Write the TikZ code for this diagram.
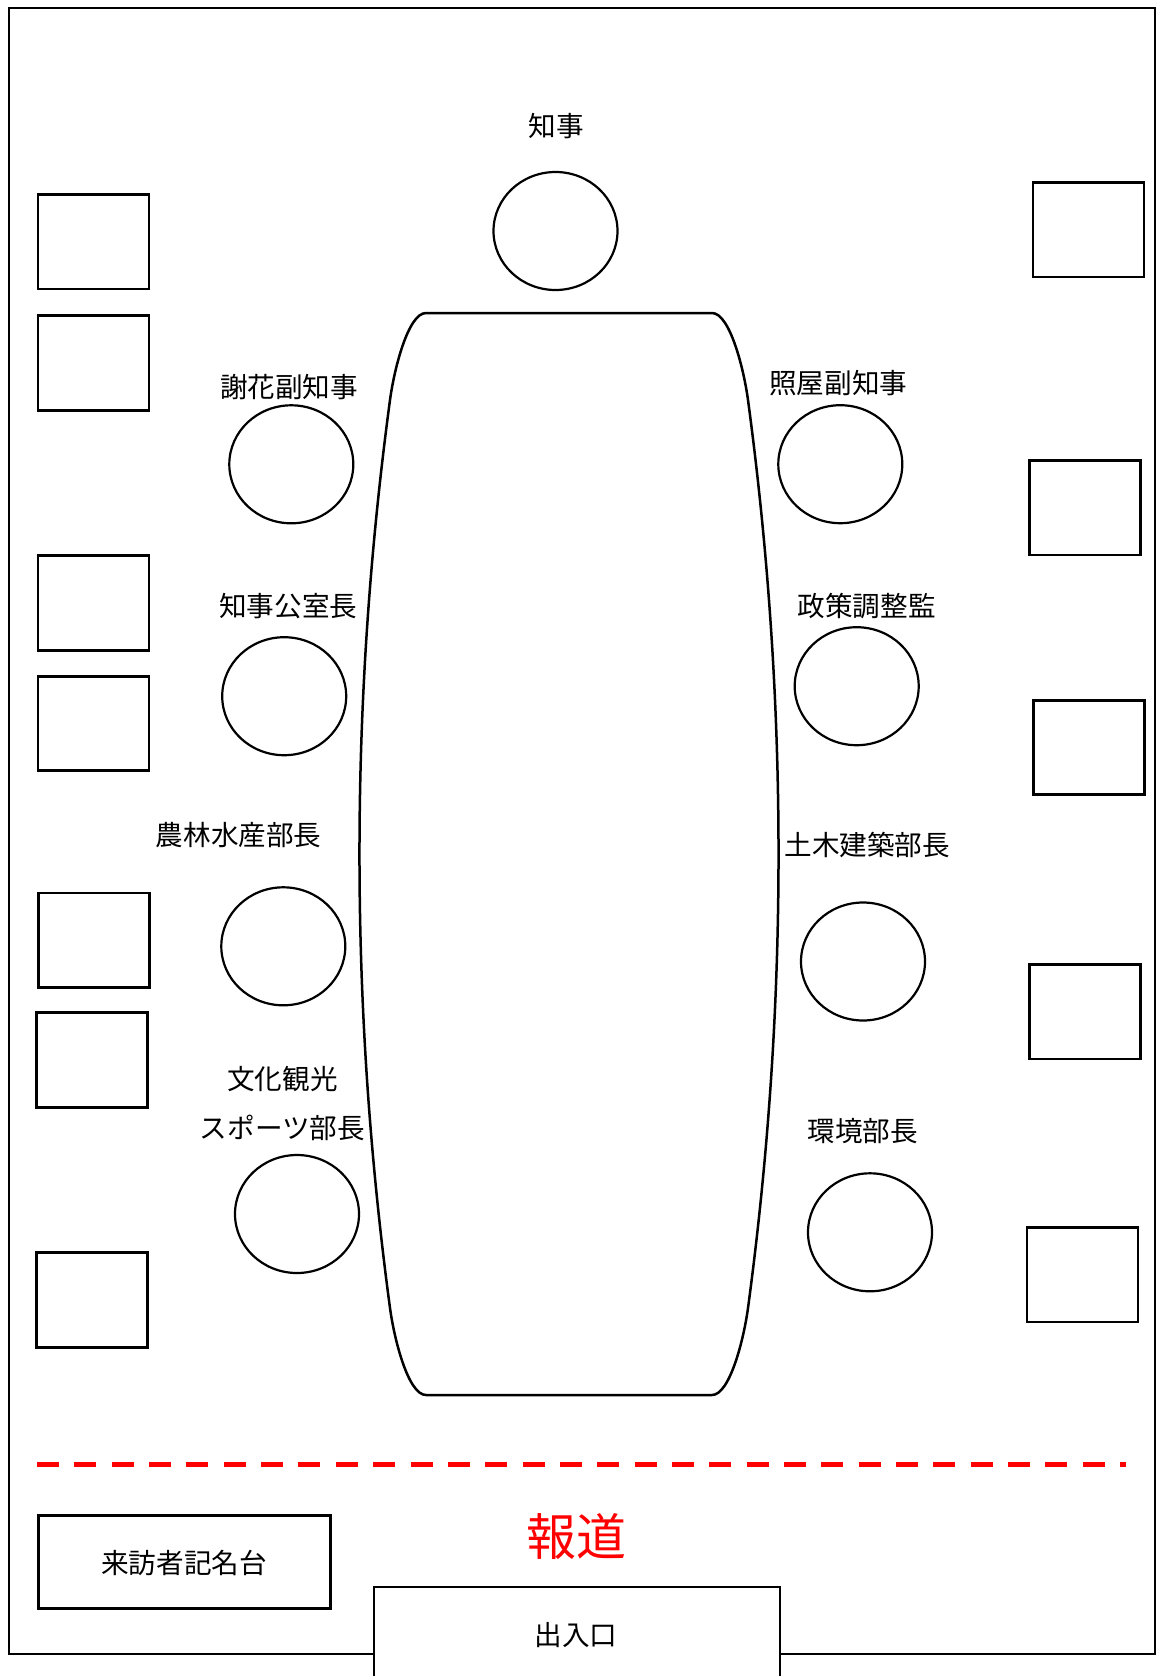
\documentclass[tikz,border=0pt]{standalone}
\usepackage{fontspec}
\setmainfont{Noto Sans CJK JP}
\usetikzlibrary{shapes.geometric}
\begin{document}
\begin{tikzpicture}[x=1pt,y=-1pt,
  seat/.style={ellipse, draw, line width=2.2pt, minimum width=124pt, minimum height=118pt, inner sep=0pt},
  chair/.style={rectangle, draw, line width=2.8pt, minimum width=111pt, minimum height=94.5pt, inner sep=0pt},
  lbl/.style={font=\fontsize{27.6}{48.3}\selectfont, inner sep=0pt, align=center},
  wall/.style={line width=2pt},
  tableline/.style={line width=2.5pt, line join=round},
  pressline/.style={draw=red, line width=5pt, dash pattern=on 22pt off 15.35pt}]
\useasboundingbox (0,0) rectangle (1157,1676);
\fill[white] (0,0) rectangle (1157,1676);
% room walls
\coordinate (wTL) at (8.5,8);
\coordinate (wBR) at (1155,1654);
\draw[wall] (wTL) rectangle (wBR);
% table
\draw[tableline] (426,313) -- (712,313)
  .. controls (730,313) and (744,370) .. (748,400)
  .. controls (788.7,702.7) and (788.7,1005.3) .. (748,1308)
  .. controls (744,1338) and (730,1395) .. (712,1395)
  -- (426,1395)
  .. controls (408,1395) and (394,1338) .. (390,1308)
  .. controls (349.3,1005.3) and (349.3,702.7) .. (390,400)
  .. controls (394,370) and (408,313) .. cycle;
% left chairs
\node[chair] (L1) at (93.5,241.8) {};
\node[chair] (L2) at (93.5,363) {};
\node[chair] (L3) at (93.5,603) {};
\node[chair] (L4) at (93.5,723.4) {};
\node[chair] (L5) at (93.7,940.2) {};
\node[chair] (L6) at (92.3,1060) {};
\node[chair] (L7) at (91.7,1300) {};
% right chairs
\node[chair] (R1) at (1088.5,229.7) {};
\node[chair] (R2) at (1084.8,507.8) {};
\node[chair] (R3) at (1088.7,747.5) {};
\node[chair] (R4) at (1084.8,1011.7) {};
\node[chair] (R5) at (1082.5,1274.7) {};
% seats
\node[seat] (s0) at (555.5,231) {};
\node[seat] (s1) at (291.3,464.3) {};
\node[seat] (s2) at (284.2,696.2) {};
\node[seat] (s3) at (283.3,946.3) {};
\node[seat] (s4) at (297,1214) {};
\node[seat] (s5) at (840.3,464.2) {};
\node[seat] (s6) at (856.7,686.2) {};
\node[seat] (s7) at (863,961.5) {};
\node[seat] (s8) at (870,1232.3) {};
% labels
\node[lbl] (t0) at (556,126) {知事};
\node[lbl] (t1) at (289,387.5) {謝花副知事};
\node[lbl] (t2) at (288.3,606) {知事公室長};
\node[lbl] (t3) at (238.7,835.5) {農林水産部長};
\node[lbl] (t4) at (282.5,1103.6) {文化観光\\スポーツ部長};
\node[lbl] (t5) at (838.3,382.8) {照屋副知事};
\node[lbl] (t6) at (866.7,606) {政策調整監};
\node[lbl] (t7) at (867.3,845.3) {土木建築部長};
\node[lbl] (t8) at (862.8,1130.7) {環境部長};
% press line
\coordinate (pL) at (37,1464);
\coordinate (pR) at (1126,1464);
\draw[pressline] (pL) -- (pR);
\node[font=\fontsize{50}{55}\selectfont, text=red, inner sep=0pt] (press) at (576,1537) {報道};
% visitor desk
\node[draw, line width=3pt, minimum width=292pt, minimum height=93pt, inner sep=0pt] (desk) at (184.5,1562) {};
\node[lbl] (deskt) at (184,1563) {来訪者記名台};
% entrance
\coordinate (eBL) at (374,1680);
\coordinate (eTL) at (374,1587);
\coordinate (eTR) at (780,1587);
\coordinate (eBR) at (780,1680);
\fill[white] (eBL) rectangle (eTR);
\draw[line width=2.5pt] (eBL) -- (eTL) -- (eTR) -- (eBR);
\node[lbl] (ent) at (576,1635) {出入口};
\end{tikzpicture}
\end{document}
